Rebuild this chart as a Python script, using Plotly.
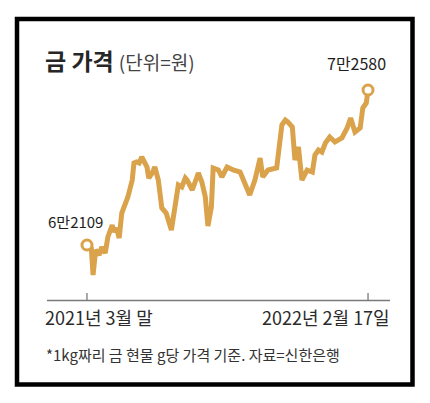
import plotly.graph_objects as go

# ---- data ----
dates = [
    "2021-03-31", "2021-04-05", "2021-04-07", "2021-04-10", "2021-04-14", "2021-04-17",
    "2021-04-21", "2021-04-24", "2021-04-29", "2021-05-01", "2021-05-04", "2021-05-07",
    "2021-05-10", "2021-05-14", "2021-05-17", "2021-05-22", "2021-05-24", "2021-05-27",
    "2021-05-30", "2021-06-02", "2021-06-05", "2021-06-08", "2021-06-10", "2021-06-14",
    "2021-06-17", "2021-06-21", "2021-06-25", "2021-06-30", "2021-07-06", "2021-07-10",
    "2021-07-14", "2021-07-18", "2021-07-22", "2021-07-24", "2021-07-30", "2021-08-06",
    "2021-08-10", "2021-08-14", "2021-08-17", "2021-08-21", "2021-08-23", "2021-08-29",
    "2021-09-02", "2021-09-08", "2021-09-15", "2021-09-23", "2021-10-01", "2021-10-04",
    "2021-10-10", "2021-10-16", "2021-10-19", "2021-10-25", "2021-11-04", "2021-11-10",
    "2021-11-14", "2021-11-17", "2021-11-22", "2021-11-25", "2021-11-29", "2021-12-03",
    "2021-12-09", "2021-12-15", "2021-12-18", "2021-12-22", "2021-12-26", "2021-12-30",
    "2022-01-04", "2022-01-10", "2022-01-18", "2022-01-24", "2022-01-28", "2022-02-02",
    "2022-02-08", "2022-02-11", "2022-02-15", "2022-02-17",
]
prices = [
    62109, 61906, 60082, 61771, 61434, 61974,
    61569, 62649, 63460, 62987, 63257, 62582,
    64271, 64946, 65351, 66500, 67648, 67716,
    67648, 68053, 67648, 67378, 66635, 66973,
    67378, 66500, 64608, 64271, 63122, 64946,
    66162, 66027, 66635, 66500, 65824, 66973,
    66365, 65351, 63392, 64676, 67310, 67175,
    66702, 67378, 67175, 67040, 65824, 65487,
    66500, 67986, 66702, 67175, 67310, 70215,
    70553, 70418, 70080, 67851, 68729, 66500,
    67175, 67040, 68189, 68526, 68391, 68999,
    69404, 69067, 69337, 70012, 70688, 69742,
    70012, 71363, 71701, 72580,
]
title_text = "금 가격"
unit_text = "(단위=원)"
start_label = "6만2109"
end_label = "7만2580"
x_labels = ["2021년 3월 말", "2022년 2월 17일"]
footnote = "*1kg짜리 금 현물 g당 가격 기준. 자료=신한은행"

W, H = 430, 403
GOLD = "#DAA24B"
FONT = "Noto Sans CJK KR"


def px(x):
    return x / W


def py(y):
    return 1 - y / H


fig = go.Figure()
fig.add_trace(go.Scatter(
    x=dates, y=prices, mode="lines",
    line=dict(color=GOLD, width=5, shape="linear"),
    hoverinfo="skip", showlegend=False,
))
fig.add_trace(go.Scatter(
    x=[dates[0], dates[-1]], y=[prices[0], prices[-1]], mode="markers",
    marker=dict(size=10, color="white", line=dict(color=GOLD, width=3)),
    hoverinfo="skip", showlegend=False, cliponaxis=False,
))

fig.update_layout(
    width=W, height=H,
    margin=dict(l=0, r=0, t=0, b=0),
    paper_bgcolor="white", plot_bgcolor="white",
    xaxis=dict(visible=False, type="date",
               range=["2021-03-20", "2022-02-28"],
               domain=[px(77.4), px(377.6)]),
    yaxis=dict(visible=False, range=[59069, 73255.5],
               domain=[py(290), py(80)]),
    font=dict(family=FONT, color="#2b2b2b"),
)

shapes = []
# frame
shapes.append(dict(type="rect", xref="paper", yref="paper",
                   x0=px(17), x1=px(412.5), y0=py(384.5), y1=py(19),
                   line=dict(color="black", width=4.5), fillcolor="rgba(0,0,0,0)"))
# axis line
shapes.append(dict(type="line", xref="paper", yref="paper",
                   x0=px(47), x1=px(390), y0=py(300.5), y1=py(300.5),
                   line=dict(color="#7a7a7a", width=1.3)))
for d in (dates[0], dates[-1]):
    shapes.append(dict(type="line", xref="x", yref="paper",
                       x0=d, x1=d, y0=py(300.5), y1=py(293),
                       line=dict(color="#7a7a7a", width=1.3)))
fig.update_layout(shapes=shapes)

ann = []
ann.append(dict(xref="paper", yref="paper", x=px(43), y=py(60),
                xanchor="left", yanchor="middle", showarrow=False,
                text=f"<b>{title_text}</b> <span style='font-size:19px;color:#444'>{unit_text}</span>",
                font=dict(size=23, color="#262626", family=FONT)))
ann.append(dict(xref="x", yref="y", x=dates[0], y=prices[0],
                xanchor="right", yanchor="middle", xshift=18, yshift=24,
                showarrow=False, text=start_label,
                font=dict(size=15, color="#1e1e1e", family=FONT)))
ann.append(dict(xref="x", yref="y", x=dates[-1], y=prices[-1],
                xanchor="center", yanchor="bottom", xshift=-12, yshift=13,
                showarrow=False, text=end_label,
                font=dict(size=16, color="#1e1e1e", family=FONT)))
ann.append(dict(xref="paper", yref="paper", x=px(43), y=py(316.5),
                xanchor="left", yanchor="middle", showarrow=False,
                text=x_labels[0], font=dict(size=18, color="#2b2b2b", family=FONT)))
ann.append(dict(xref="paper", yref="paper", x=px(392), y=py(316.5),
                xanchor="right", yanchor="middle", showarrow=False,
                text=x_labels[1], font=dict(size=18, color="#2b2b2b", family=FONT)))
ann.append(dict(xref="paper", yref="paper", x=px(44), y=py(354),
                xanchor="left", yanchor="middle", showarrow=False,
                text=footnote, font=dict(size=15, color="#333333", family=FONT)))
fig.update_layout(annotations=ann)

fig.write_html("out.html", config={"displayModeBar": False},
               post_script="document.body.style.margin='0';document.body.style.overflow='hidden';")
